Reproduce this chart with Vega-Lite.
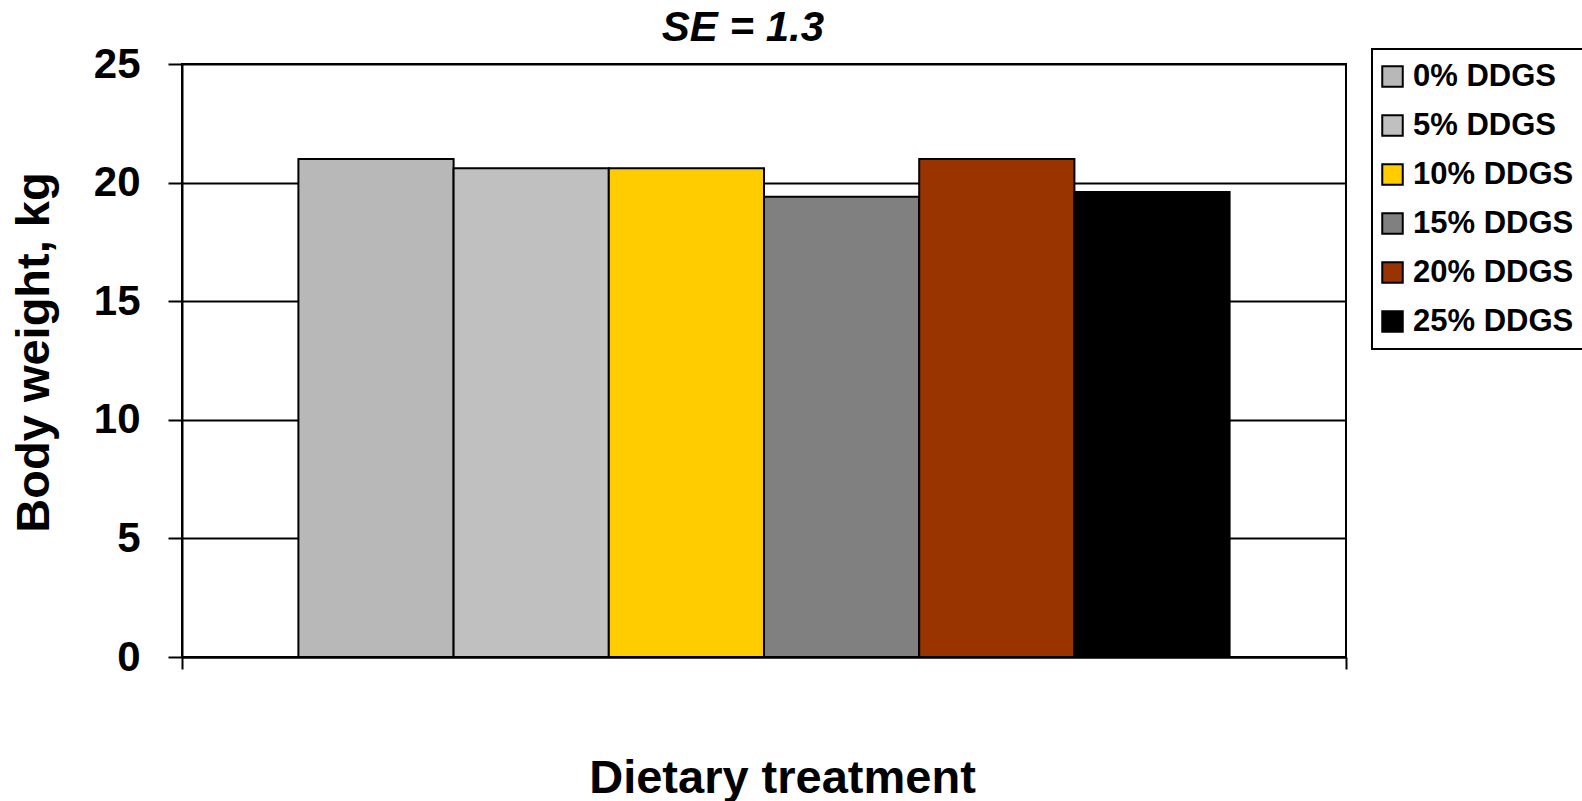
{
  "$schema": "https://vega.github.io/schema/vega-lite/v6.json",
  "width": 1164,
  "height": 593,
  "autosize": {"type": "none"},
  "padding": {"left": 182, "top": 64, "right": 236, "bottom": 144},
  "background": "white",
  "title": {
    "text": "SE = 1.3",
    "font": "Liberation Sans",
    "fontSize": 42,
    "fontWeight": "bold",
    "fontStyle": "italic",
    "color": "black",
    "frame": "group",
    "anchor": "middle",
    "offset": 0,
    "dx": -21,
    "dy": 7
  },
  "data": {
    "values": [
      {"group": "All", "treatment": "0% DDGS", "weight": 21.0},
      {"group": "All", "treatment": "5% DDGS", "weight": 20.6},
      {"group": "All", "treatment": "10% DDGS", "weight": 20.6},
      {"group": "All", "treatment": "15% DDGS", "weight": 19.4},
      {"group": "All", "treatment": "20% DDGS", "weight": 21.0},
      {"group": "All", "treatment": "25% DDGS", "weight": 19.6}
    ]
  },
  "mark": {"type": "bar", "stroke": "black", "strokeWidth": 2},
  "encoding": {
    "x": {
      "field": "group",
      "type": "nominal",
      "scale": {"paddingInner": 0, "paddingOuter": 0},
      "axis": {
        "title": "Dietary treatment",
        "labels": false,
        "tickBand": "extent",
        "tickSize": 12,
        "tickColor": "black",
        "tickWidth": 2,
        "domainColor": "black",
        "domainWidth": 2,
        "grid": false,
        "titleFont": "Liberation Sans",
        "titleFontSize": 47,
        "titleFontWeight": "bold",
        "titleColor": "black",
        "titleX": 600,
        "titleY": 135,
        "titleBaseline": "alphabetic"
      }
    },
    "xOffset": {
      "field": "treatment",
      "type": "nominal",
      "sort": ["0% DDGS", "5% DDGS", "10% DDGS", "15% DDGS", "20% DDGS", "25% DDGS"],
      "scale": {"paddingInner": 0, "paddingOuter": 0.75}
    },
    "y": {
      "field": "weight",
      "type": "quantitative",
      "scale": {"domain": [0, 25]},
      "axis": {
        "title": "Body weight, kg",
        "values": [0, 5, 10, 15, 20, 25],
        "grid": true,
        "gridColor": "black",
        "gridWidth": 2,
        "gridOpacity": 1,
        "domainColor": "black",
        "domainWidth": 2,
        "tickColor": "black",
        "tickWidth": 2,
        "tickSize": 14,
        "labelFont": "Liberation Sans",
        "labelFontSize": 42,
        "labelFontWeight": "bold",
        "labelColor": "black",
        "labelPadding": 28,
        "titleFont": "Liberation Sans",
        "titleFontSize": 47,
        "titleFontWeight": "bold",
        "titleColor": "black",
        "titleAngle": -90,
        "titleX": -134,
        "titleY": 288,
        "titleBaseline": "alphabetic",
        "titleAlign": "center"
      }
    },
    "color": {
      "field": "treatment",
      "type": "nominal",
      "sort": ["0% DDGS", "5% DDGS", "10% DDGS", "15% DDGS", "20% DDGS", "25% DDGS"],
      "scale": {
        "domain": ["0% DDGS", "5% DDGS", "10% DDGS", "15% DDGS", "20% DDGS", "25% DDGS"],
        "range": ["#b8b8b8", "#c0c0c0", "#ffcc00", "#808080", "#993300", "#000000"]
      },
      "legend": {
        "title": null,
        "orient": "none",
        "legendX": 1190,
        "legendY": -15,
        "strokeColor": "black",
        "fillColor": "white",
        "padding": 12,
        "symbolType": "square",
        "symbolSize": 420,
        "symbolOffset": -7,
        "symbolStrokeColor": "black",
        "symbolStrokeWidth": 2,
        "symbolOpacity": 1,
        "labelFont": "Liberation Sans",
        "labelFontSize": 31,
        "labelFontWeight": "bold",
        "labelColor": "black",
        "labelOffset": 5,
        "labelLimit": 400,
        "rowPadding": 17,
        "encode": {"legend": {"update": {"strokeWidth": {"value": 2}}}}
      }
    }
  },
  "config": {
    "view": {"stroke": "black", "strokeWidth": 2}
  }
}
